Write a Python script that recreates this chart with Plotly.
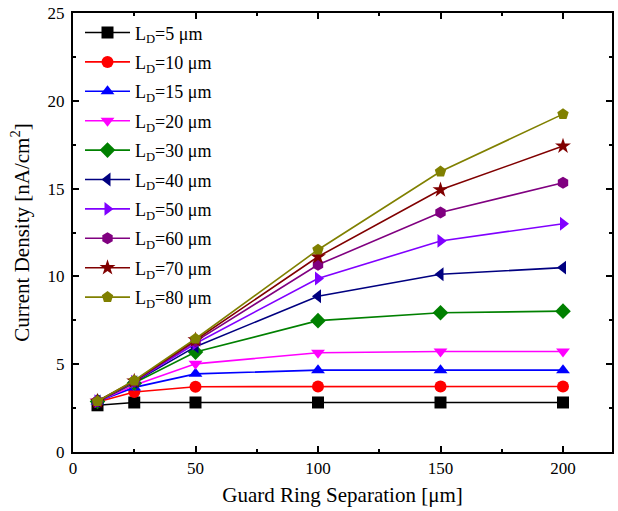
import plotly.graph_objects as go

x_sep = [10, 25, 50, 100, 150, 200]
names = ["5", "10", "15", "20", "30", "40", "50", "60", "70", "80"]
ld5 = [2.66, 2.82, 2.82, 2.82, 2.82, 2.82]
ld10 = [2.85, 3.42, 3.72, 3.73, 3.73, 3.73]
ld15 = [2.87, 3.68, 4.45, 4.66, 4.66, 4.66]
ld20 = [2.88, 3.80, 5.02, 5.65, 5.72, 5.72]
ld30 = [2.88, 3.92, 5.69, 7.48, 7.93, 8.02]
ld40 = [2.88, 3.98, 6.00, 8.87, 10.12, 10.50]
ld50 = [2.89, 4.00, 6.18, 9.88, 12.02, 13.00]
ld60 = [2.89, 4.02, 6.30, 10.66, 13.64, 15.33]
ld70 = [2.89, 4.04, 6.38, 11.12, 14.93, 17.42]
ld80 = [2.89, 4.07, 6.45, 11.52, 15.97, 19.24]
series = [ld5, ld10, ld15, ld20, ld30, ld40, ld50, ld60, ld70, ld80]
colors = ["#000000", "#FF0000", "#0000FF", "#FF00FF", "#008000",
          "#000080", "#8000FF", "#800080", "#800000", "#808000"]
symbols = ["square", "circle", "triangle-up", "triangle-down", "diamond",
           "triangle-left", "triangle-right", "hexagon", "star", "pentagon"]

FONT = "Liberation Serif, Times New Roman, serif"

fig = go.Figure()
for i, (n, ys, c, s) in enumerate(zip(names, series, colors, symbols)):
    fig.add_trace(go.Scatter(
        x=x_sep, y=ys, mode="lines+markers",
        name="L<sub>D</sub>=%s μm" % n,
        legendgroup="g%d" % i,
        line=dict(color=c, width=1.6),
        marker=dict(symbol=s, color=c, size=12, line=dict(width=0)),
    ))

axis_common = dict(
    showline=True, linecolor="black", linewidth=2, mirror="ticks",
    ticks="inside", ticklen=6, tickwidth=1.5, tickcolor="black",
    showgrid=False, zeroline=False,
    tickfont=dict(family=FONT, size=17, color="black"),
)

fig.update_xaxes(range=[0, 220], dtick=50, tick0=0,
                 minor=dict(ticks="inside", ticklen=3, dtick=25, tickcolor="black", tickwidth=1.5),
                 title=dict(text="Guard Ring Separation [μm]", font=dict(family=FONT, size=21, color="black"), standoff=10),
                 **axis_common)
fig.update_yaxes(range=[0, 25], dtick=5, tick0=0, ticklabelstandoff=3,
                 minor=dict(ticks="inside", ticklen=3, dtick=2.5, tickcolor="black", tickwidth=1.5),
                 title=dict(text="Current Density [nA/cm<sup>2</sup>]", font=dict(family=FONT, size=21, color="black"), standoff=12),
                 **axis_common)

fig.update_layout(
    width=618, height=511,
    margin=dict(l=73, r=4, t=11, b=59),
    paper_bgcolor="white", plot_bgcolor="white",
    font=dict(family=FONT, color="black"),
    legend=dict(x=0.013, y=0.997, xanchor="left", yanchor="top",
                bgcolor="rgba(0,0,0,0)", font=dict(family=FONT, size=18, color="black"),
                tracegroupgap=3, itemwidth=45),
    showlegend=True,
)

fig.write_html("out.html")
